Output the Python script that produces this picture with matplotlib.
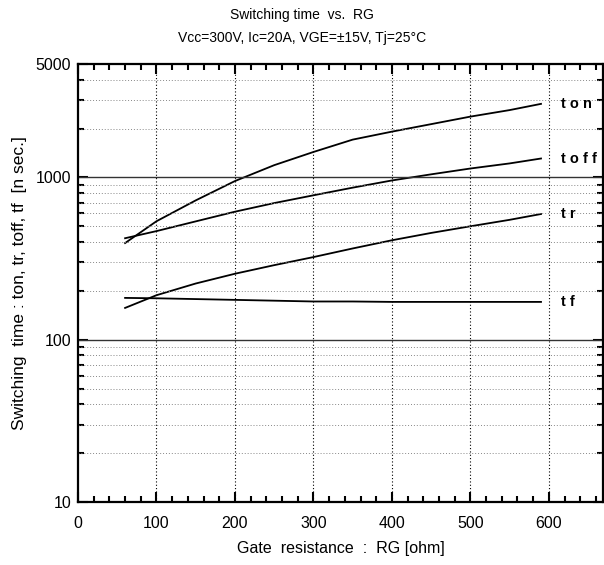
import matplotlib
matplotlib.use('Agg')
import numpy as np
import matplotlib.pyplot as plt
from matplotlib.ticker import FixedLocator, MultipleLocator, NullFormatter

plt.rcParams['font.family'] = ['Liberation Sans', 'DejaVu Sans']

# values (RG in ohm, times in ns)
rg = [60, 100, 150, 200, 250, 300, 350, 400, 450, 500, 550, 590]
ton = [394, 537, 722, 950, 1190, 1435, 1710, 1915, 2130, 2370, 2600, 2840]
toff = [422, 467, 536, 615, 695, 776, 865, 958, 1045, 1135, 1220, 1308]
tr = [157, 188, 222, 255, 288, 323, 365, 410, 455, 500, 548, 595]
tf = [181, 180, 178, 176, 174, 172, 172, 171, 171, 171, 171, 171]

curves = {'ton': ton, 'toff': toff, 'tr': tr, 'tf': tf}
label_text = {'ton': 't o n', 'toff': 't o f f', 'tr': 't r', 'tf': 't f'}

fig = plt.figure(figsize=(6.04, 5.65), dpi=100)
ax = fig.add_axes([78/604, 1-502/565, (603-78)/604, (502-64)/565])

ax.set_yscale('log')
ax.set_xlim(0, 669)
ax.set_ylim(10, 5000)

for name, vals in curves.items():
    ax.plot(rg, vals, color='black', lw=1.3)
    ax.text(615, vals[-1], label_text[name], fontsize=10.5, fontweight='bold',
            va='center', ha='left')

# grid: solid decades, dotted minors, dotted verticals
ax.yaxis.set_major_locator(FixedLocator([10, 100, 1000, 5000]))
ax.set_yticklabels(['10', '100', '1000', '5000'])
minor_y = [m * d for d in [10, 100, 1000] for m in range(2, 10) if m * d < 5000]
ax.yaxis.set_minor_locator(FixedLocator(minor_y))
ax.yaxis.set_minor_formatter(NullFormatter())
ax.xaxis.set_major_locator(MultipleLocator(100))
ax.xaxis.set_minor_locator(MultipleLocator(20))

for v in [100, 1000]:
    ax.axhline(v, color='#333333', lw=1.0)
for v in minor_y:
    ax.axhline(v, color='#888888', lw=0.7, ls=(0, (1, 2)))
for v in range(100, 700, 100):
    ax.axvline(v, color='black', lw=0.8, ls=(0, (1, 2)))

ax.tick_params(which='both', direction='in', top=True, right=True, width=1.5,
               labelsize=11.5, colors='black')
ax.tick_params(which='major', length=7)
ax.tick_params(which='minor', length=4)
ax.tick_params(axis='x', pad=10)
ax.tick_params(axis='y', pad=5)
for s in ax.spines.values():
    s.set_linewidth(1.6)

ax.set_xlabel('Gate  resistance  :  RG [ohm]', fontsize=11.5, labelpad=7)
ax.set_ylabel('Switching  time : ton, tr, toff, tf  [n sec.]', fontsize=12.5, labelpad=6)

fig.text(0.5, 1-15/565, 'Switching time  vs.  RG', ha='center', va='center', fontsize=10)
fig.text(0.5, 1-38/565, 'Vcc=300V, Ic=20A, VGE=\u00b115V, Tj=25\u00b0C', ha='center', va='center', fontsize=10)

fig.savefig('out.png', dpi=100)
